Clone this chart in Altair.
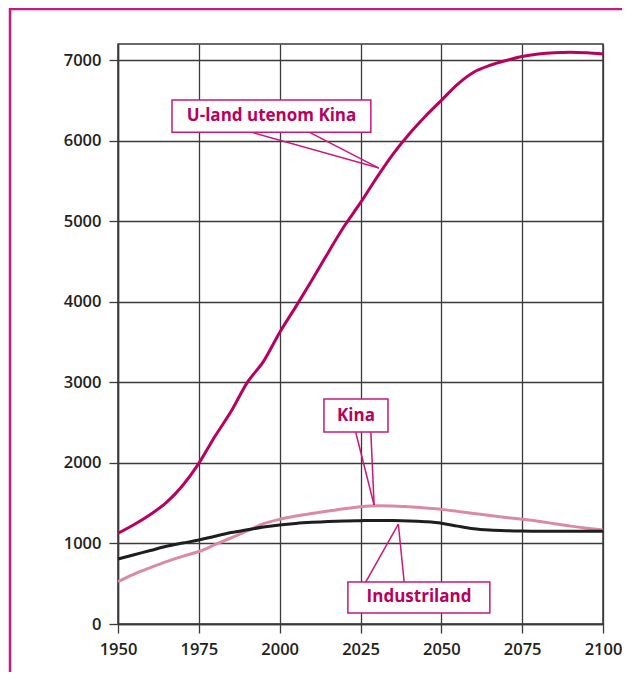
import altair as alt
import pandas as pd

years = list(range(1950, 2101, 5))
uland = [1126, 1235, 1360, 1510, 1720, 1994, 2330, 2640, 3000, 3260, 3620,
         3940, 4270, 4610, 4940, 5230, 5540, 5830, 6080, 6300, 6500, 6700,
         6850, 6935, 6995, 7045, 7075, 7092, 7098, 7090, 7075]
kina = [525, 620, 700, 775, 840, 900, 985, 1070, 1155, 1245, 1300,
        1340, 1372, 1403, 1432, 1456, 1468, 1466, 1455, 1440, 1423, 1398,
        1372, 1346, 1322, 1300, 1275, 1245, 1215, 1190, 1167]
industri = [807, 860, 912, 965, 1005, 1042, 1090, 1135, 1170, 1203, 1229,
            1248, 1262, 1273, 1280, 1283, 1285, 1284, 1280, 1270, 1252, 1215,
            1182, 1166, 1158, 1154, 1152, 1150, 1150, 1150, 1150]

series_names = ["Kina", "Industriland", "U-land utenom Kina"]
series_colors = ["#d98aa5", "#1e1e1e", "#b8005e"]

x_ticks = [1950, 1975, 2000, 2025, 2050, 2075, 2100]
y_ticks = [0, 1000, 2000, 3000, 4000, 5000, 6000, 7000]

# annotation boxes (data units)
box_label = ["U-land utenom Kina", "Kina", "Industriland"]
box_x1 = [1966.7, 2013.7, 2021.1]
box_x2 = [2028.2, 2033.5, 2065.0]
box_y1 = [6106, 2383, 137]
box_y2 = [6504, 2793, 521]
box_tx = [1997.5, 2023.6, 2043.1]
box_ty = [6305, 2588, 329]

# pointer lines (data units): start on box edge, end at tip
ptr_x1 = [1991.1, 2009.1, 2023.5, 2028.2, 2026.6, 2038.5]
ptr_y1 = [6106, 6106, 2383, 2383, 521, 521]
ptr_x2 = [2030.7, 2030.7, 2029.2, 2029.2, 2036.7, 2036.7]
ptr_y2 = [5660, 5660, 1477, 1477, 1241, 1241]

rows = []
for name, vals in zip(series_names, [kina, industri, uland]):
    for yr, v in zip(years, vals):
        rows.append({"year": yr, "value": v, "series": name})
df = pd.DataFrame(rows)

boxes = pd.DataFrame({"label": box_label, "x1": box_x1, "x2": box_x2,
                      "y1": box_y1, "y2": box_y2, "tx": box_tx, "ty": box_ty})
ptrs = pd.DataFrame({"x1": ptr_x1, "y1": ptr_y1, "x2": ptr_x2, "y2": ptr_y2})

xscale = alt.Scale(domain=[1950, 2100], nice=False)
yscale = alt.Scale(domain=[0, 7200], nice=False)

xaxis = alt.Axis(values=x_ticks, format="d", title=None, grid=True, labelFlush=False)
yaxis = alt.Axis(values=y_ticks, format="d", title=None, grid=True)

lines = alt.Chart(df).mark_line(strokeWidth=3, interpolate="monotone").encode(
    x=alt.X("year:Q", scale=xscale, axis=xaxis),
    y=alt.Y("value:Q", scale=yscale, axis=yaxis),
    color=alt.Color("series:N", scale=alt.Scale(domain=series_names, range=series_colors), legend=None),
    order=alt.Order("year:Q"),
)

pointer = alt.Chart(ptrs).mark_rule(color="#c8187a", strokeWidth=1.5).encode(
    x=alt.X("x1:Q", scale=xscale), y=alt.Y("y1:Q", scale=yscale),
    x2="x2:Q", y2="y2:Q",
)

rects = alt.Chart(boxes).mark_rect(fill="white", stroke="#c8187a", strokeWidth=1.5).encode(
    x=alt.X("x1:Q", scale=xscale), x2="x2:Q",
    y=alt.Y("y1:Q", scale=yscale), y2="y2:Q",
)

texts = alt.Chart(boxes).mark_text(font="Open Sans", fontSize=17, fontWeight="bold",
                                   color="#b8005e", baseline="middle", align="center").encode(
    x=alt.X("tx:Q", scale=xscale), y=alt.Y("ty:Q", scale=yscale), text="label:N",
)

frame = alt.Chart(pd.DataFrame({"a": [0]})).mark_rect(
    fillOpacity=0, stroke="#c8187a", strokeWidth=2.5
).encode(x=alt.value(-108), x2=alt.value(700), y=alt.value(-35), y2=alt.value(800))

chart = alt.layer(lines, pointer, rects, texts, frame).properties(
    width=485, height=580,
    padding={"left": 110, "top": 36, "right": 19, "bottom": 48},
    autosize=alt.AutoSizeParams(type="none"),
).configure_view(
    stroke="#3a3a3a", strokeWidth=1.5
).configure_axis(
    gridColor="#3a3a3a", gridWidth=1.3, gridOpacity=1,
    domainColor="#3a3a3a", domainWidth=1.5,
    tickColor="#3a3a3a", tickWidth=1.3, tickSize=9,
    labelFont="Open Sans", labelFontWeight=600, labelFontSize=16.5,
    labelColor="#222222", labelPadding=8,
)

chart.save("out.html", embed_options={"renderer": "svg", "actions": False})
